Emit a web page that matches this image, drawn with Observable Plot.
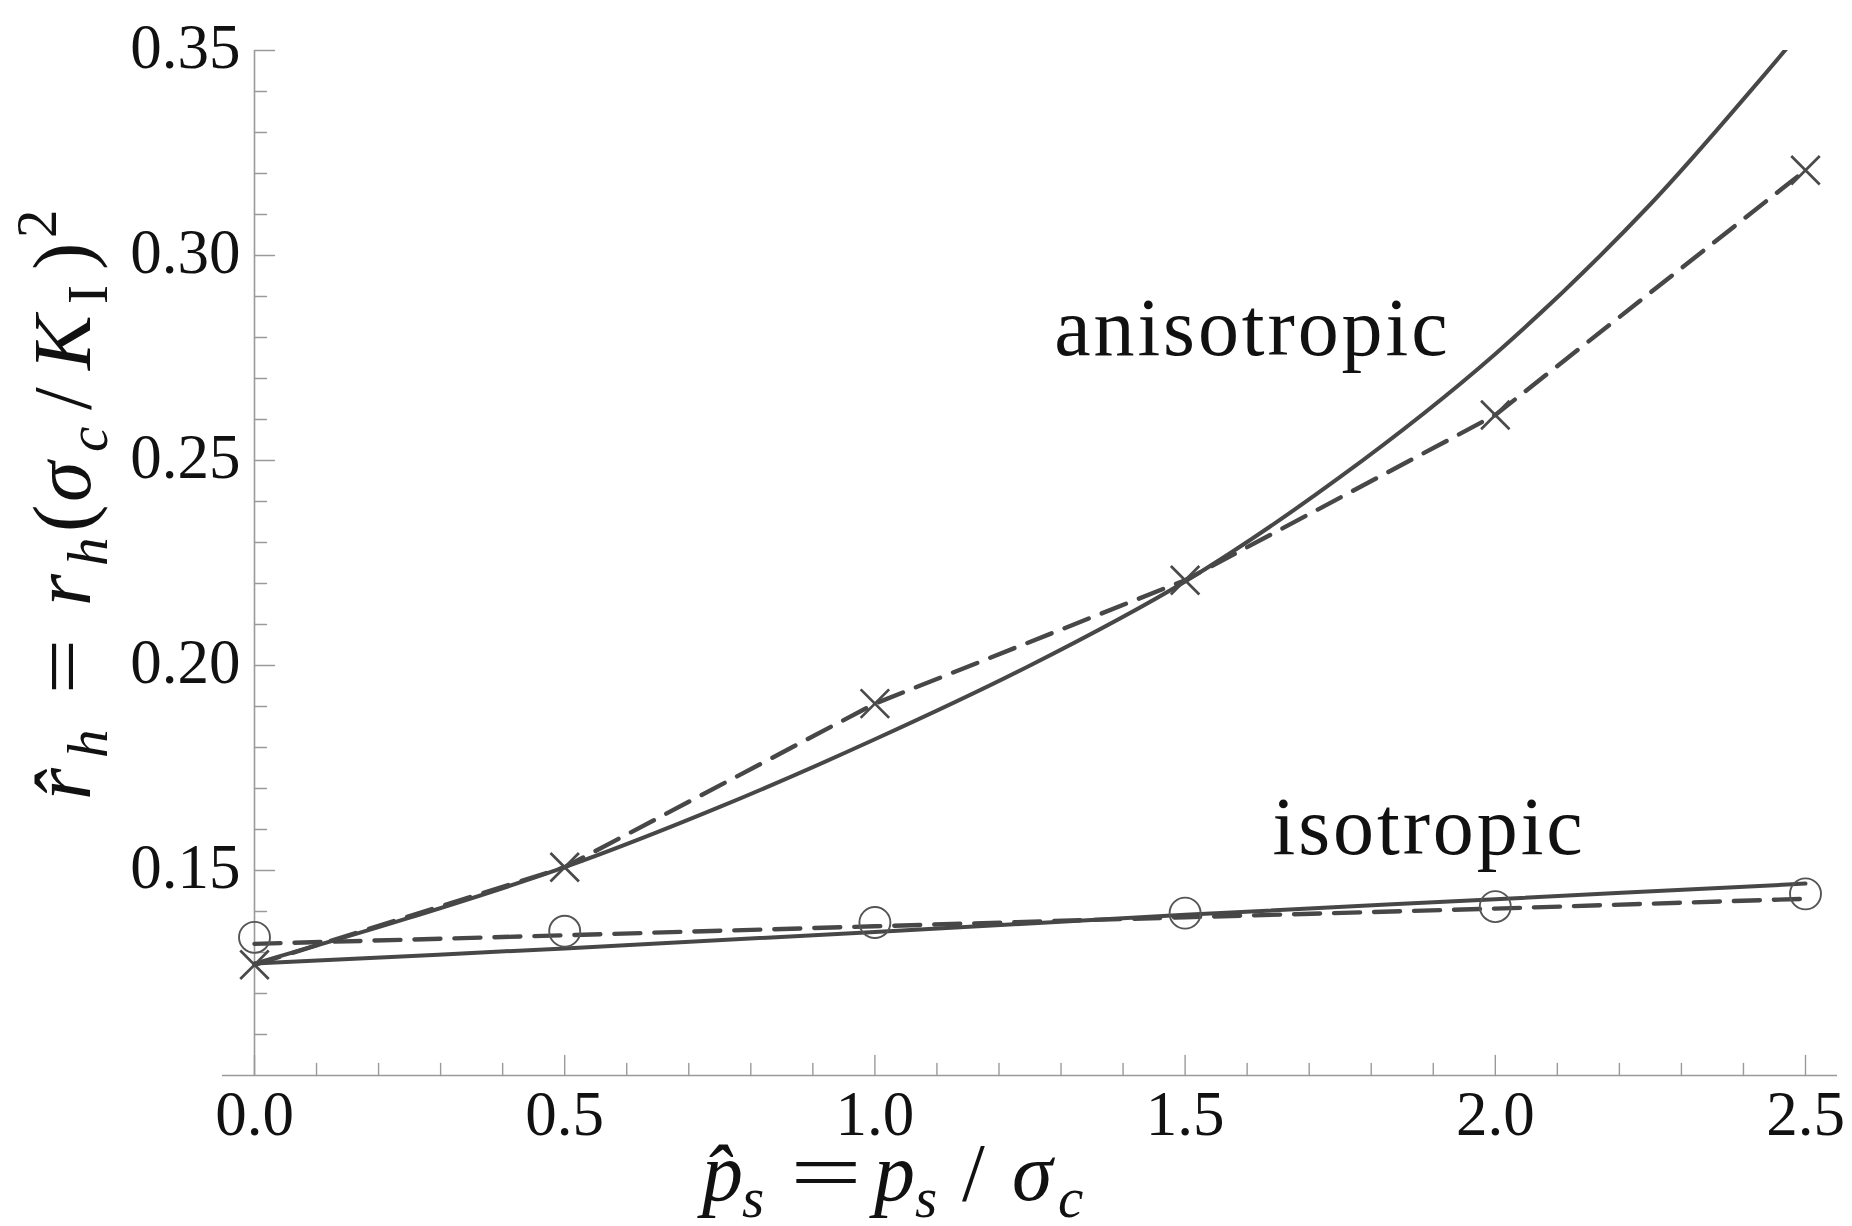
<!DOCTYPE html>
<html>
<head>
<meta charset="utf-8">
<script src="https://cdn.jsdelivr.net/npm/d3@7"></script>
<script src="https://cdn.jsdelivr.net/npm/@observablehq/plot@0.6"></script>
<style>
  html, body { margin: 0; padding: 0; background: #fff; }
  #chart { width: 1852px; height: 1226px; }
</style>
</head>
<body>
<div id="chart"></div>
<script>
// ---------------- data ----------------
const ps = [0, 0.5, 1.0, 1.5, 2.0, 2.5];                       // p̂s sample points
const anisoMarkers = [0.1270, 0.1508, 0.1907, 0.2208, 0.2611, 0.3208]; // × (dashed, anisotropic)
const isoMarkers   = [0.1337, 0.1352, 0.1373, 0.1396, 0.1412, 0.1443]; // ○ (isotropic)
const isoFit       = [0.1321, 0.1342, 0.1364, 0.1386, 0.1407, 0.1431]; // dashed isotropic line
const isoCurve     = [0.1273, 0.1310, 0.1350, 0.1392, 0.1430, 0.1468]; // solid isotropic

const curveP     = [0, 0.25, 0.5, 0.75, 1.0, 1.25, 1.5, 1.75, 2.0, 2.25, 2.5];
const anisoCurve = [0.1273, 0.1385, 0.1508, 0.1655, 0.1820, 0.2000, 0.2205, 0.2460, 0.2760, 0.3125, 0.3560];

const xDomain = [0, 2.5];
const yDomain = [0.10, 0.35];
const xMajor = [0, 0.5, 1.0, 1.5, 2.0, 2.5];
const xMinor = [0.1, 0.2, 0.3, 0.4, 0.6, 0.7, 0.8, 0.9, 1.1, 1.2, 1.3, 1.4,
                1.6, 1.7, 1.8, 1.9, 2.1, 2.2, 2.3, 2.4];
const yMajor = [0.15, 0.20, 0.25, 0.30, 0.35];
const yMinor = [0.11, 0.12, 0.13, 0.14, 0.16, 0.17, 0.18, 0.19, 0.21, 0.22, 0.23, 0.24,
                0.26, 0.27, 0.28, 0.29, 0.31, 0.32, 0.33, 0.34];
const labels = ["anisotropic", "isotropic"];

// ---------------- tables ----------------
const anisoPts = ps.map((p, i) => ({p, v: anisoMarkers[i]}));
const isoPts   = ps.map((p, i) => ({p, v: isoMarkers[i]}));
const isoFitT  = ps.map((p, i) => ({p, v: isoFit[i]}));
const isoCurT  = ps.map((p, i) => ({p, v: isoCurve[i]}));
const anisoCurT = curveP.map((p, i) => ({p, v: anisoCurve[i]}));

// ---------------- styles ----------------
const serif = "'Liberation Serif', 'Times New Roman', serif";
const lineColor = "#474747";
const axisColor = "#9a9a9a";
const tickUp = {draw(ctx, l) { ctx.moveTo(0, 0); ctx.lineTo(0, -l); }};

const plot = Plot.plot({
  width: 1852,
  height: 1226,
  marginLeft: 254,
  marginRight: 47,
  marginTop: 50,
  marginBottom: 151,
  x: {domain: xDomain, axis: null},
  y: {domain: yDomain, axis: null},
  style: {fontFamily: serif, background: "#fff", color: "#111", overflow: "visible"},
  marks: [
    // axis lines
    Plot.ruleY([yDomain[0]], {stroke: axisColor, strokeWidth: 1.6, insetLeft: -32, insetRight: -32}),
    Plot.ruleX([xDomain[0]], {stroke: axisColor, strokeWidth: 1.6}),
    // inward ticks
    Plot.vector(xMinor, {x: d => d, frameAnchor: "bottom", length: 12, anchor: "start", shape: tickUp, stroke: axisColor, strokeWidth: 1.4}),
    Plot.vector(xMajor, {x: d => d, frameAnchor: "bottom", length: 20, anchor: "start", shape: tickUp, stroke: axisColor, strokeWidth: 1.4}),
    Plot.vector(yMinor, {y: d => d, frameAnchor: "left", length: 12, rotate: 90, anchor: "start", shape: tickUp, stroke: axisColor, strokeWidth: 1.4}),
    Plot.vector(yMajor, {y: d => d, frameAnchor: "left", length: 20, rotate: 90, anchor: "start", shape: tickUp, stroke: axisColor, strokeWidth: 1.4}),
    // tick labels
    Plot.axisX({ticks: xMajor, tickSize: 0, tickPadding: 15, tickFormat: d3.format(".1f"), fontSize: 63, label: null, fill: "#111"}),
    Plot.axisY({ticks: yMajor, tickSize: 0, tickPadding: 14, tickFormat: d3.format(".2f"), fontSize: 63, label: null, fill: "#111", dy: -3}),
    // curves
    Plot.line(isoCurT, {x: "p", y: "v", curve: "catmull-rom", stroke: lineColor, strokeWidth: 4}),
    Plot.line(isoFitT, {x: "p", y: "v", stroke: lineColor, strokeWidth: 4.4, strokeDasharray: "26,14"}),
    Plot.line(anisoCurT, {x: "p", y: "v", curve: "catmull-rom", stroke: lineColor, strokeWidth: 4, clip: true}),
    Plot.line(anisoPts, {x: "p", y: "v", stroke: lineColor, strokeWidth: 4.4, strokeDasharray: "26,14"}),
    // markers
    Plot.dot(isoPts, {x: "p", y: "v", r: 15.5, stroke: "#555", strokeWidth: 1.9, fill: "none"}),
    Plot.dot(anisoPts, {x: "p", y: "v", symbol: "times", r: 13, stroke: "#4a4a4a", strokeWidth: 2.7}),
    // annotations
    Plot.text([labels[0]], {x: 1.289, y: 0.2822, text: d => d, textAnchor: "start", lineAnchor: "middle", fontSize: 82, fill: "#111"}),
    Plot.text([labels[1]], {x: 1.641, y: 0.1604, text: d => d, textAnchor: "start", lineAnchor: "middle", fontSize: 82, fill: "#111"})
  ]
});

document.getElementById("chart").appendChild(plot);

const svg = d3.select(plot);
svg.selectAll("text").filter(function() { return labels.includes(this.textContent); })
  .attr("letter-spacing", 2.9);

// ---------------- axis titles (math, as real text) ----------------
function addParts(textSel, parts) {
  for (const p of parts) {
    const t = textSel.append("tspan").attr("x", p.x).attr("y", p.y || 0).text(p.s);
    if (p.italic) t.attr("font-style", "italic");
    if (p.size) t.attr("font-size", p.size);
    if (p.len) t.attr("textLength", p.len).attr("lengthAdjust", "spacingAndGlyphs");
  }
}

// y title (rotated): x values are -screenY of each glyph start
const yTitle = svg.append("text")
  .attr("transform", "translate(90,0) rotate(-90)")
  .attr("text-anchor", "start")
  .attr("font-family", serif).attr("font-size", 82).attr("fill", "#111");
addParts(yTitle, [
  {s: "r\u0302", x: -800, italic: true},
  {s: "h", x: -758, y: 17, italic: true, size: 57},
  {s: "=", x: -694, len: 55},
  {s: "r", x: -606, italic: true},
  {s: "h", x: -566, y: 17, italic: true, size: 57},
  {s: "(", x: -532},
  {s: "\u03c3", x: -502, italic: true},
  {s: "c", x: -452, y: 17, italic: true, size: 57},
  {s: "/", x: -410},
  {s: "K", x: -370, italic: true},
  {s: "I", x: -304, y: 17, size: 57},
  {s: ")", x: -270},
  {s: "2", x: -238, y: -34, size: 57}
]);

// x title
const xTitle = svg.append("text")
  .attr("transform", "translate(0,1200)")
  .attr("text-anchor", "start")
  .attr("font-family", serif).attr("font-size", 82).attr("fill", "#111");
addParts(xTitle, [
  {s: "p\u0302", x: 702, italic: true},
  {s: "s", x: 742, y: 17, italic: true, size: 57},
  {s: "=", x: 790, len: 72},
  {s: "p", x: 874, italic: true},
  {s: "s", x: 915, y: 17, italic: true, size: 57},
  {s: "/", x: 962},
  {s: "\u03c3", x: 1012, italic: true},
  {s: "c", x: 1058, y: 17, italic: true, size: 57}
]);
</script>
</body>
</html>
